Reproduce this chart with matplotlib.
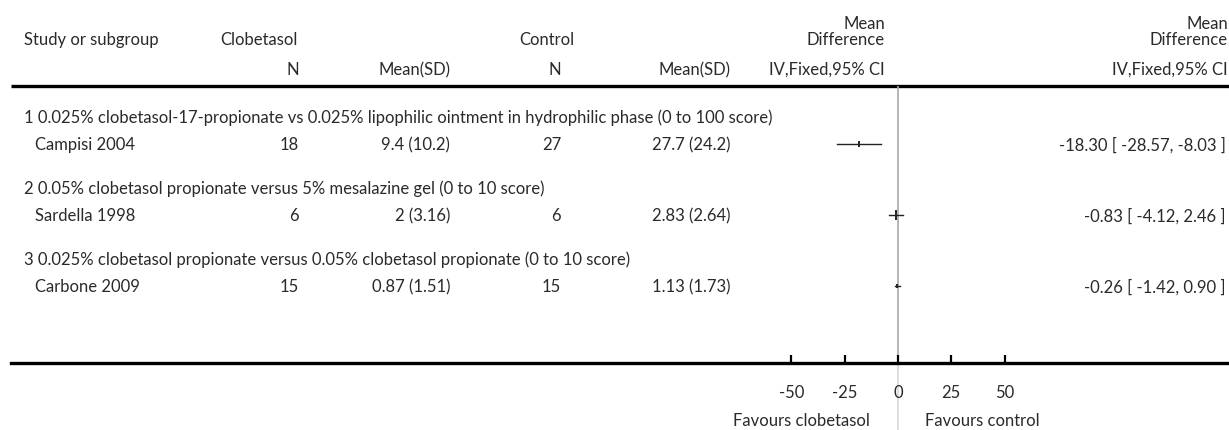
import matplotlib
matplotlib.use("Agg")
from matplotlib import pyplot as plt

W, H = 1229, 431

subgroups = [
    "1 0.025% clobetasol-17-propionate vs 0.025% lipophilic ointment in hydrophilic phase (0 to 100 score)",
    "2 0.05% clobetasol propionate versus 5% mesalazine gel (0 to 10 score)",
    "3 0.025% clobetasol propionate versus 0.05% clobetasol propionate (0 to 10 score)",
]
studies = ["Campisi 2004", "Sardella 1998", "Carbone 2009"]
n_clob = [18, 6, 15]
msd_clob = ["9.4 (10.2)", "2 (3.16)", "0.87 (1.51)"]
n_ctrl = [27, 6, 15]
msd_ctrl = ["27.7 (24.2)", "2.83 (2.64)", "1.13 (1.73)"]
md = [-18.30, -0.83, -0.26]
ci_low = [-28.57, -4.12, -1.42]
ci_high = [-8.03, 2.46, 0.90]
marker_size = [4, 7, 3]
ticks = [-50, -25, 0, 25, 50]

plt.rcParams['font.family'] = ['Lato', 'DejaVu Sans']
fs = 12
tc = '#2a2a2a'

fig = plt.figure(figsize=(W / 100, H / 100), dpi=100)

# background axes in pixel units for the table text
ax = fig.add_axes([0, 0, 1, 1])
ax.set_xlim(0, W)
ax.set_ylim(H, 0)
ax.axis('off')

def txt(x, y, s, ha='left'):
    ax.text(x, y, s, ha=ha, va='center', fontsize=fs, color=tc)

txt(24, 40, "Study or subgroup")
txt(220, 40, "Clobetasol")
txt(519, 40, "Control")
txt(885, 24, "Mean", 'right')
txt(885, 40, "Difference", 'right')
txt(1228, 24, "Mean", 'right')
txt(1228, 40, "Difference", 'right')
txt(299, 70, "N", 'right')
txt(450, 70, "Mean(SD)", 'right')
txt(561, 70, "N", 'right')
txt(730, 70, "Mean(SD)", 'right')
txt(885, 70, "IV,Fixed,95% CI", 'right')
txt(1228, 70, "IV,Fixed,95% CI", 'right')

ax.plot([11, W], [87, 87], color='black', lw=2.4, solid_capstyle='butt')

head_y = [118, 189, 260]
row_y = [145, 216, 287]
for i in range(len(studies)):
    txt(24, head_y[i], subgroups[i])
    txt(35, row_y[i], studies[i])
    txt(299, row_y[i], str(n_clob[i]), 'right')
    txt(450, row_y[i], msd_clob[i], 'right')
    txt(561, row_y[i], str(n_ctrl[i]), 'right')
    txt(730, row_y[i], msd_ctrl[i], 'right')
    txt(1226, row_y[i], "%.2f [ %.2f, %.2f ]" % (md[i], ci_low[i], ci_high[i]), 'right')

txt(870, 421, "Favours clobetasol", 'right')
txt(925, 421, "Favours control")

# forest axes: x in mean difference units, 0 at px 898, 25 units ~ 53.3 px
x0, ppu = 898, 53.3 / 25
fa = fig.add_axes([11 / W, (H - 364) / H, (W - 11) / W, (364 - 87) / H])
fa.set_xlim((11 - x0) / ppu, (W - x0) / ppu)
fa.set_ylim(364, 87)
fa.patch.set_alpha(0)
for s in ['top', 'left', 'right']:
    fa.spines[s].set_visible(False)
fa.spines['bottom'].set_linewidth(2.4)
fa.set_yticks([])
fa.set_xticks(ticks)
fa.set_xticklabels([str(t) for t in ticks])
fa.tick_params(axis='x', direction='in', length=6, width=1.6, pad=15, labelsize=fs, labelcolor=tc)

fa.plot([0, 0], [87, 364], color='#a8a8a8', lw=1.2, zorder=1)
fa.plot([0, 0], [364, 431], color='#d8d8d8', lw=1.2, clip_on=False, zorder=1)

for i in range(len(studies)):
    fa.plot([ci_low[i], ci_high[i]], [row_y[i], row_y[i]], color='#222222', lw=1.0, zorder=3)
    fa.plot(md[i], row_y[i], marker='|', ms=marker_size[i], mew=1.4, color='#222222', zorder=4)

plt.savefig("out.png", dpi=100)
